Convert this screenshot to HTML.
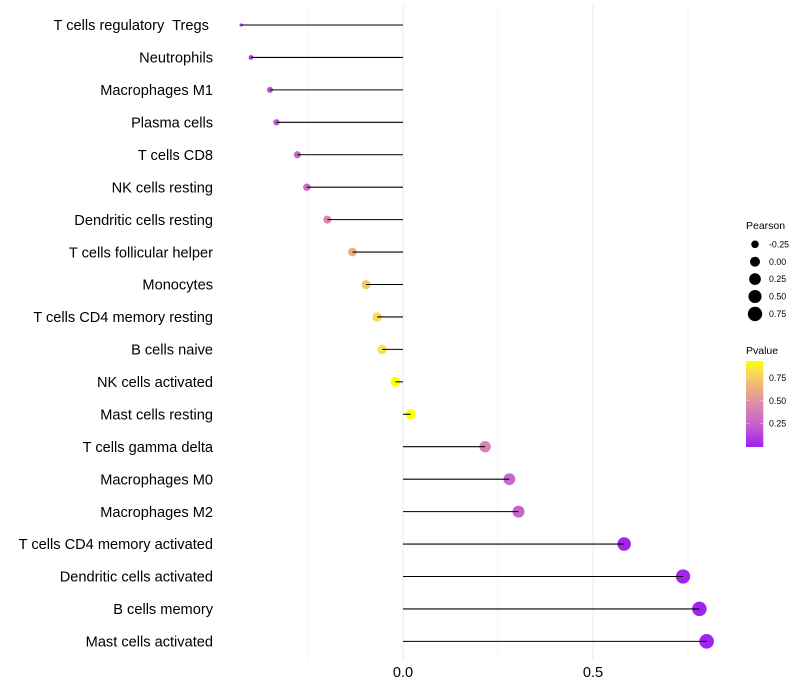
<!DOCTYPE html>
<html>
<head>
<meta charset="utf-8">
<style>
html,body{margin:0;padding:0;background:#fff;}
svg{display:block;font-family:"Liberation Sans",sans-serif;}
text{white-space:pre;}
</style>
</head>
<body>
<svg id="chart" width="800" height="700" viewBox="0 0 800 700" xmlns="http://www.w3.org/2000/svg">
<defs>
<linearGradient id="pvalue-gradient" x1="0" y1="1" x2="0" y2="0">
<stop offset="0" stop-color="#a020f0"/>
<stop offset="0.25" stop-color="#c45fcf"/>
<stop offset="0.5" stop-color="#de8bac"/>
<stop offset="0.75" stop-color="#f2bd6c"/>
<stop offset="0.875" stop-color="#f9dc55"/>
<stop offset="1" stop-color="#ffff00"/>
</linearGradient>
</defs>
<g id="grid"></g>
<g id="marks"></g>
<g id="ylabels"></g>
<g id="xlabels"></g>
<g id="size-legend"></g>
<g id="color-legend"></g>
</svg>
<script>
const categories = ["T cells regulatory  Tregs ","Neutrophils","Macrophages M1","Plasma cells","T cells CD8","NK cells resting","Dendritic cells resting","T cells follicular helper","Monocytes","T cells CD4 memory resting","B cells naive","NK cells activated","Mast cells resting","T cells gamma delta","Macrophages M0","Macrophages M2","T cells CD4 memory activated","Dendritic cells activated","B cells memory","Mast cells activated"];
const pearson = [-0.426,-0.400,-0.350,-0.333,-0.278,-0.253,-0.199,-0.133,-0.097,-0.068,-0.055,-0.020,0.020,0.216,0.280,0.304,0.582,0.737,0.780,0.799];
const pvalues = [0.08,0.13,0.19,0.22,0.29,0.33,0.47,0.68,0.79,0.87,0.89,1.00,1.00,0.46,0.31,0.27,0.02,0.01,0.01,0.01];
const majorTicks = [0,0.5];
const minorTicks = [-0.25,0.25,0.75];
const xTickLabels = ["0.0","0.5"];
const sizeBreaks = [-0.25,0,0.25,0.5,0.75];
const sizeLabels = ["-0.25","0.00","0.25","0.50","0.75"];
const colorBreaks = [0.25,0.5,0.75];
const colorLabels = ["0.25","0.50","0.75"];

const NS = "http://www.w3.org/2000/svg";
const xScale = v => 403 + 380 * v;
const yScale = i => 25 + 32.44 * i;
const minP = Math.min(...pearson), maxP = Math.max(...pearson);
const sizeScale = v => 1.6 + 5.7 * Math.sqrt(Math.max(0, (v - minP) / (maxP - minP)));
const gradientStops = [[0,[160,32,240]],[0.25,[196,95,207]],[0.5,[222,139,172]],[0.75,[242,189,108]],[0.875,[249,220,85]],[1,[255,255,0]]];
function colorScale(p){
  for (let k = 1; k < gradientStops.length; k++){
    if (p <= gradientStops[k][0]){
      const a = gradientStops[k-1], b = gradientStops[k];
      const t = (p - a[0]) / (b[0] - a[0]);
      return "rgb(" + a[1].map((c,j) => Math.round(c + (b[1][j] - c) * t)).join(",") + ")";
    }
  }
  return "rgb(255,255,0)";
}
function make(tag, attrs, parent){
  const el = document.createElementNS(NS, tag);
  for (const k in attrs) el.setAttribute(k, attrs[k]);
  parent.appendChild(el);
  return el;
}
const grid = document.getElementById("grid");
const marks = document.getElementById("marks");
const ylabels = document.getElementById("ylabels");
const xlabels = document.getElementById("xlabels");
const sizeLegend = document.getElementById("size-legend");
const colorLegend = document.getElementById("color-legend");

minorTicks.forEach(t => {
  const l = make("line", {x1:xScale(t), x2:xScale(t), y1:5, y2:660, stroke:"#ebebeb", "stroke-width":0.55}, grid);
  
  
});
majorTicks.forEach((t,i) => {
  const l = make("line", {x1:xScale(t), x2:xScale(t), y1:5, y2:660, stroke:"#ebebeb", "stroke-width":1.07}, grid);
  
  
  const tx = make("text", {x:xScale(t), y:677, "text-anchor":"middle", "font-size":14.6, fill:"#000"}, xlabels);
  tx.textContent = xTickLabels[i];
  
  
});
categories.forEach((c,i) => {
  const tx = make("text", {x:213, y:yScale(i)+5.2, "text-anchor":"end", "font-size":14.6, fill:"#000"}, ylabels);
  tx.textContent = c;
  
  
  const dot = make("circle", {cx:xScale(pearson[i]), cy:yScale(i), r:sizeScale(pearson[i]), fill:colorScale(pvalues[i])}, marks);
  
  
  const stem = make("line", {x1:xScale(0), x2:xScale(pearson[i]), y1:yScale(i), y2:yScale(i), stroke:"#000", "stroke-width":1.07}, marks);
  
  
});

const t1 = make("text", {x:746, y:229, "font-size":10.5, fill:"#000"}, sizeLegend);
t1.textContent = "Pearson";


sizeBreaks.forEach((b,i) => {
  const yy = 244.3 + 17.4 * i;
  const c = make("circle", {cx:755, cy:yy, r:sizeScale(b), fill:"#000"}, sizeLegend);
  
  
  const tx = make("text", {x:769, y:yy+3.1, "font-size":8.8, fill:"#000"}, sizeLegend);
  tx.textContent = sizeLabels[i];
  
  
});

const t2 = make("text", {x:746, y:354, "font-size":10.5, fill:"#000"}, colorLegend);
t2.textContent = "Pvalue";


const bar = make("rect", {x:746, y:361, width:17.3, height:86, fill:"url(#pvalue-gradient)"}, colorLegend);


const cbY = p => 446 - 90.5 * p;
colorBreaks.forEach((b,i) => {
  const yy = cbY(b);
  [[746,749.5],[759.8,763.3]].forEach(seg => {
    const tick = make("line", {x1:seg[0], x2:seg[1], y1:yy, y2:yy, stroke:"#fff", "stroke-opacity":0.6, "stroke-width":0.6}, colorLegend);
    
    
  });
  const tx = make("text", {x:769, y:yy+3.1, "font-size":8.8, fill:"#000"}, colorLegend);
  tx.textContent = colorLabels[i];
  
  
});
</script>
</body>
</html>
